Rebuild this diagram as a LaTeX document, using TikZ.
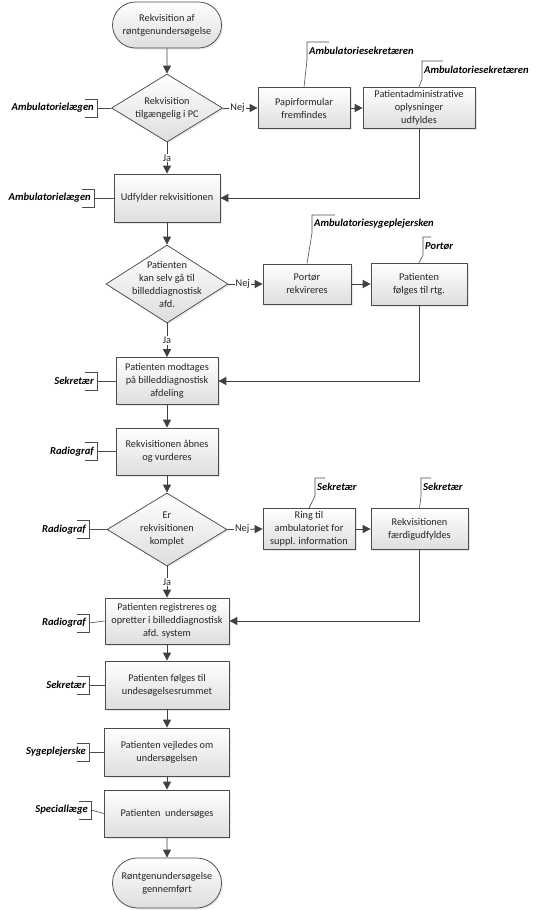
\documentclass[tikz,border=0pt]{standalone}
\usepackage{fontspec}
\setmainfont{Carlito}
\usetikzlibrary{arrows.meta,shapes.geometric,shapes.misc,shadows}
\newcommand\leftrole[5]{%
  \node[role, anchor=east] (#1) at (#3-2,#4) {#2};
  \draw[thinline] (#3-12,#4-9) -- (#3,#4-9) -- (#3,#4+9) -- (#3-12,#4+9);
  \draw[thinline] (#3,#4) -- (#5.west);
}
\newcommand\toprole[6]{%
  \draw[thinline] (#3+#5,#4) -- (#3,#4) -- (#3,#4+18) -- (#6.north);
  \node[role, anchor=west] (#1) at (#3+1,#4+9) {#2};
}
\begin{document}
\begin{tikzpicture}[x=1pt,y=-1pt,
  every node/.style={font=\fontsize{10.3}{13}\selectfont, text=black!85},
  shade/.style={draw=black!70, line width=0.75pt, top color=white, bottom color=black!13,
    drop shadow={shadow xshift=1.5pt,shadow yshift=-1.5pt,fill=black!18}},
  proc/.style={shade, rectangle, align=center, inner sep=1pt},
  term/.style={shade, rounded rectangle, align=center, inner sep=1pt},
  decision/.style={shade, diamond, inner sep=0pt},
  role/.style={font=\fontsize{10.6}{12}\selectfont\bfseries\itshape, text=black, inner sep=1pt},
  thinline/.style={draw=black!70, line width=0.6pt},
  arr/.style={draw=black!75, line width=0.8pt, -{Triangle[length=8pt,width=8pt]}},
  lab/.style={fill=white, inner sep=1pt, text=black!85},
  dlab/.style={align=center, font=\fontsize{10.3}{13}\selectfont, text=black!85},
]
\useasboundingbox (0,0) rectangle (544,910);

% main column
\node[term, minimum width=111pt, minimum height=46pt] (start) at (167,25) {Rekvisition af\\røntgenundersøgelse};
\node[decision, minimum width=111pt, minimum height=68pt,
  label={[dlab]center:Rekvisition\\tilgængelig i PC}] (d1) at (167,108) {};
\node[proc, minimum width=92pt, minimum height=41pt] (papir) at (304,108) {Papirformular\\fremfindes};
\node[proc, minimum width=112pt, minimum height=41pt] (admin) at (419,108) {Patientadministrative\\oplysninger\\udfyldes};
\node[proc, minimum width=106pt, minimum height=48pt] (udf) at (167,198) {Udfylder rekvisitionen};
\node[decision, minimum width=122pt, minimum height=78pt,
  label={[dlab]center:Patienten\\kan selv gå til\\billeddiagnostisk\\afd.}] (d2) at (167,284) {};
\node[proc, minimum width=88pt, minimum height=40pt] (portor) at (307,284) {Portør\\rekvireres};
\node[proc, minimum width=96pt, minimum height=42pt] (folges) at (419,284) {Patienten\\følges til rtg.};
\node[proc, minimum width=102pt, minimum height=47pt] (modt) at (167,381) {Patienten modtages\\på billeddiagnostisk\\afdeling};
\node[proc, minimum width=102pt, minimum height=47pt] (aabn) at (167,451.5) {Rekvisitionen åbnes\\og vurderes};
\node[decision, minimum width=120pt, minimum height=73pt,
  label={[dlab]center:Er\\rekvisitionen\\komplet}] (d3) at (167,529.5) {};
\node[proc, minimum width=92pt, minimum height=41pt] (ring) at (309,529) {Ring til\\ambulatoriet for\\suppl. information};
\node[proc, minimum width=97pt, minimum height=41pt] (faerdig) at (419.5,529) {Rekvisitionen\\færdigudfyldes};
\node[proc, minimum width=124pt, minimum height=46pt] (reg) at (167,621) {Patienten registreres og\\opretter i billeddiagnostisk\\afd. system};
\node[proc, minimum width=124pt, minimum height=48pt] (folg) at (167,685) {Patienten følges til\\undesøgelsesrummet};
\node[proc, minimum width=125pt, minimum height=48pt] (vejl) at (167,752) {Patienten vejledes om\\undersøgelsen};
\node[proc, minimum width=125pt, minimum height=47pt] (unders) at (167,813.5) {Patienten\ \ undersøges};
\node[term, minimum width=111pt, minimum height=50pt] (end) at (167,883) {Røntgenundersøgelse\\gennemført};

% connectors
\draw[arr] (start) -- (d1);
\draw[arr] (d1.east) -- node[lab, pos=0.42] {Nej} (papir.west);
\draw[arr] (papir) -- (admin);
\draw[arr] (admin.south) |- (udf.east);
\draw[arr] (d1.south) -- node[lab] {Ja} (udf.north);
\draw[arr] (udf) -- (d2);
\draw[arr] (d2.east) -- node[lab, pos=0.42] {Nej} (portor.west);
\draw[arr] (portor) -- (folges);
\draw[arr] (folges.south) |- (modt.east);
\draw[arr] (d2.south) -- node[lab] {Ja} (modt.north);
\draw[arr] (modt) -- (aabn);
\draw[arr] (aabn) -- (d3);
\draw[arr] (d3.east) -- node[lab, pos=0.42] {Nej} (ring.west);
\draw[arr] (ring) -- (faerdig);
\draw[arr] (faerdig.south) |- (reg.east);
\draw[arr] (d3.south) -- node[lab] {Ja} (reg.north);
\draw[arr] (reg) -- (folg);
\draw[arr] (folg) -- (vejl);
\draw[arr] (vejl) -- (unders);
\draw[arr] (unders) -- (end);

% role annotations, left
\leftrole{r1}{Ambulatorielægen}{97}{108}{d1}
\leftrole{r2}{Ambulatorielægen}{94}{198}{udf}
\leftrole{r3}{Sekretær}{97}{381}{modt}
\leftrole{r4}{Radiograf}{97}{451.5}{aabn}
\leftrole{r5}{Radiograf}{89}{529.5}{d3}
\leftrole{r6}{Radiograf}{89}{623}{reg}
\leftrole{r7}{Sekretær}{89}{685}{folg}
\leftrole{r8}{Sygeplejerske}{89}{752}{vejl}
\leftrole{r9}{Speciallæge}{91}{810}{unders}

% role annotations, top
\toprole{t1}{Ambulatoriesekretæren}{307}{42}{22}{papir}
\toprole{t2}{Ambulatoriesekretæren}{422}{61}{21}{admin}
\toprole{t3}{Ambulatoriesygeplejersken}{312}{215}{23}{portor}
\toprole{t4}{Portør}{423}{237}{8}{folges}
\toprole{t5}{Sekretær}{315}{478}{10}{ring}
\toprole{t6}{Sekretær}{421}{478}{10}{faerdig}
\end{tikzpicture}
\end{document}
